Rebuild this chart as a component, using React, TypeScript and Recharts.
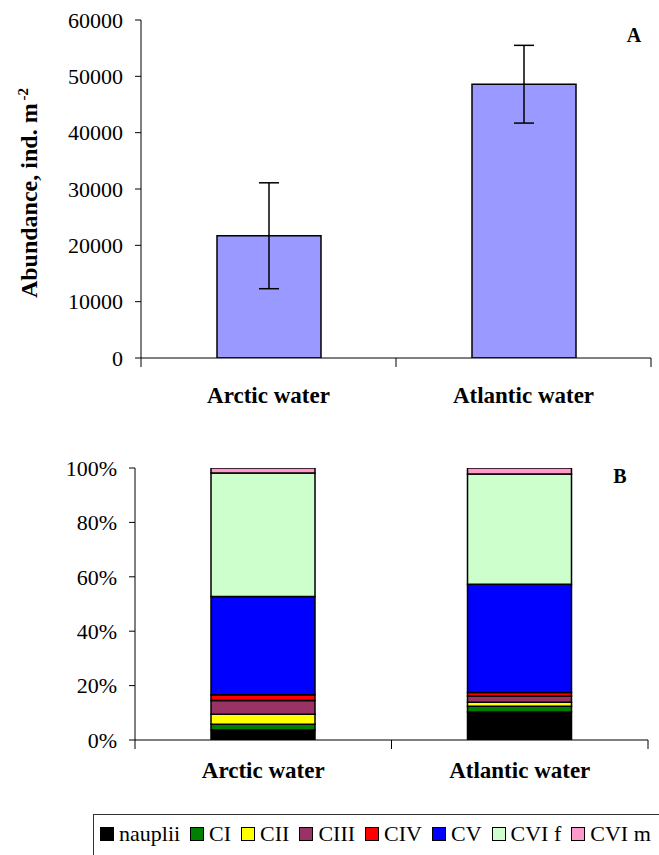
import { BarChart, Bar, XAxis, YAxis, ErrorBar, Legend } from 'recharts';

const SERIF = "'Liberation Serif', 'Times New Roman', Times, serif";

// panel A: total abundance
const categories = ['Arctic water', 'Atlantic water'];
const abundance = [21700, 48600];
const abundanceErr = [9400, 6900];
const abundanceTicks = [0, 10000, 20000, 30000, 40000, 50000, 60000];

// panel B: stage composition, % (bottom to top)
const stageNames = ['nauplii', 'CI', 'CII', 'CIII', 'CIV', 'CV', 'CVI f', 'CVI m'];
const nauplii = [3.7, 10.3];
const ci = [2.1, 2.1];
const cii = [3.7, 1.5];
const ciii = [5.0, 2.3];
const civ = [2.1, 1.3];
const cv = [36.2, 39.8];
const cvif = [45.4, 40.5];
const cvim = [1.8, 2.2];
const compositionTicks = [0, 20, 40, 60, 80, 100];

const stageValues = [nauplii, ci, cii, ciii, civ, cv, cvif, cvim];
const stageColors = ['#000000', '#008000', '#FFFF00', '#993366', '#FF0000', '#0000FF', '#CCFFCC', '#FF99CC'];
const stageKeys = ['s0', 's1', 's2', 's3', 's4', 's5', 's6', 's7'];

const abundanceData = categories.map((name, i) => ({ name, abundance: abundance[i], err: abundanceErr[i] }));
const compositionData = categories.map((name, i) => {
  const row: Record<string, any> = { name };
  stageKeys.forEach((k, s) => (row[k] = stageValues[s][i]));
  return row;
});

const W = 659;

// Excel-style category axis: tick marks between categories, bold labels in the middle
function makeCategoryTick(band: number, labelDy: number) {
  return (props: any) => {
    const { x, y, payload, index } = props;
    return (
      <g>
        <line x1={x - band / 2} y1={y} x2={x - band / 2} y2={y + 9} stroke="#000" />
        {index === categories.length - 1 && (
          <line x1={x + band / 2} y1={y} x2={x + band / 2} y2={y + 9} stroke="#000" />
        )}
        <text x={x} y={y + labelDy} textAnchor="middle" fontFamily={SERIF} fontWeight="bold" fontSize={23} fill="#000">
          {payload.value}
        </text>
      </g>
    );
  };
}

const yTick = { fill: '#000', fontSize: 22, fontFamily: SERIF };

function StageLegend() {
  return (
    <div
      style={{
        border: '1px solid #333',
        borderBottom: 'none',
        height: 42,
        boxSizing: 'border-box',
        padding: '6px 0 0 6px',
        fontFamily: SERIF,
        fontSize: 22,
        lineHeight: 'normal',
        color: '#000',
        whiteSpace: 'nowrap',
        overflow: 'hidden',
      }}
    >
      {stageNames.map((n, i) => (
        <span key={n} style={{ marginRight: 10 }}>
          <span
            style={{
              display: 'inline-block',
              width: 12,
              height: 12,
              border: '1.5px solid #000',
              background: stageColors[i],
              marginRight: 5,
            }}
          />
          {n}
        </span>
      ))}
    </div>
  );
}

export default function App() {
  const topMargin = { top: 20, right: 8, bottom: 0, left: 0 };
  const topYWidth = 141;
  const topBand = (W - topMargin.left - topMargin.right - topYWidth) / categories.length;

  const botMargin = { top: 48, right: 11, bottom: 0, left: 0 };
  const botYWidth = 135;
  const botBand = (W - botMargin.left - botMargin.right - botYWidth) / categories.length;

  return (
    <div style={{ position: 'absolute', left: 0, top: 0, width: W, height: 855, overflow: 'hidden', background: '#fff' }}>
      <div style={{ position: 'absolute', left: 0, top: 0 }}>
        <BarChart width={W} height={420} data={abundanceData} margin={topMargin}>
          <XAxis
            dataKey="name"
            height={62}
            interval={0}
            axisLine={{ stroke: '#000' }}
            tickLine={false}
            tickSize={0}
            tickMargin={0}
            tick={makeCategoryTick(topBand, 45)}
          />
          <YAxis
            width={topYWidth}
            domain={[0, 60000]}
            ticks={abundanceTicks}
            allowDataOverflow
            axisLine={{ stroke: '#000' }}
            tickLine={{ stroke: '#000' }}
            tickSize={6}
            tickMargin={12}
            tick={yTick}
            label={() => (
              <text transform="rotate(-90)" x={-193} y={37} textAnchor="middle" fontFamily={SERIF} fontWeight="bold" fontSize={24} fill="#000">
                Abundance, ind. m
                <tspan dx={3} dy={-9} fontSize={15}>
                  -2
                </tspan>
              </text>
            )}
          />
          <Bar dataKey="abundance" fill="#9999FF" stroke="#000" strokeWidth={1.5} barSize={104} isAnimationActive={false}>
            <ErrorBar dataKey="err" width={10} stroke="#000" strokeWidth={1.5} direction="y" isAnimationActive={false} />
          </Bar>
        </BarChart>
      </div>

      <div style={{ position: 'absolute', left: 0, top: 420 }}>
        <BarChart width={W} height={435} data={compositionData} margin={botMargin}>
          <XAxis
            dataKey="name"
            height={115}
            interval={0}
            axisLine={{ stroke: '#000' }}
            tickLine={false}
            tickSize={0}
            tickMargin={0}
            tick={makeCategoryTick(botBand, 38)}
          />
          <YAxis
            width={botYWidth}
            domain={[0, 100]}
            ticks={compositionTicks}
            allowDataOverflow
            tickFormatter={(v: number) => `${v}%`}
            axisLine={{ stroke: '#000' }}
            tickLine={{ stroke: '#000' }}
            tickSize={6}
            tickMargin={12}
            tick={yTick}
            label={() => (
              <text transform="rotate(-90)" x={-606} y={49} textAnchor="middle" fontFamily={SERIF} fontWeight="bold" fontSize={24} fill="#000">
                Relative composition, %
              </text>
            )}
          />
          {stageKeys.map((k, i) => (
            <Bar
              key={k}
              dataKey={k}
              name={stageNames[i]}
              stackId="stage"
              fill={stageColors[i]}
              stroke="#000"
              strokeWidth={1.5}
              barSize={104}
              isAnimationActive={false}
            />
          ))}
          <Legend
            layout="horizontal"
            verticalAlign="middle"
            align="center"
            content={() => <StageLegend />}
            wrapperStyle={{ position: 'absolute', left: 93, top: 394, width: 620, height: 42 }}
          />
        </BarChart>
      </div>

      <svg width={W} height={855} style={{ position: 'absolute', left: 0, top: 0, pointerEvents: 'none' }}>
        <text x={634} y={42} textAnchor="middle" fontFamily={SERIF} fontWeight="bold" fontSize={20} fill="#000">
          A
        </text>
        <text x={620} y={483} textAnchor="middle" fontFamily={SERIF} fontWeight="bold" fontSize={20} fill="#000">
          B
        </text>
      </svg>
    </div>
  );
}
